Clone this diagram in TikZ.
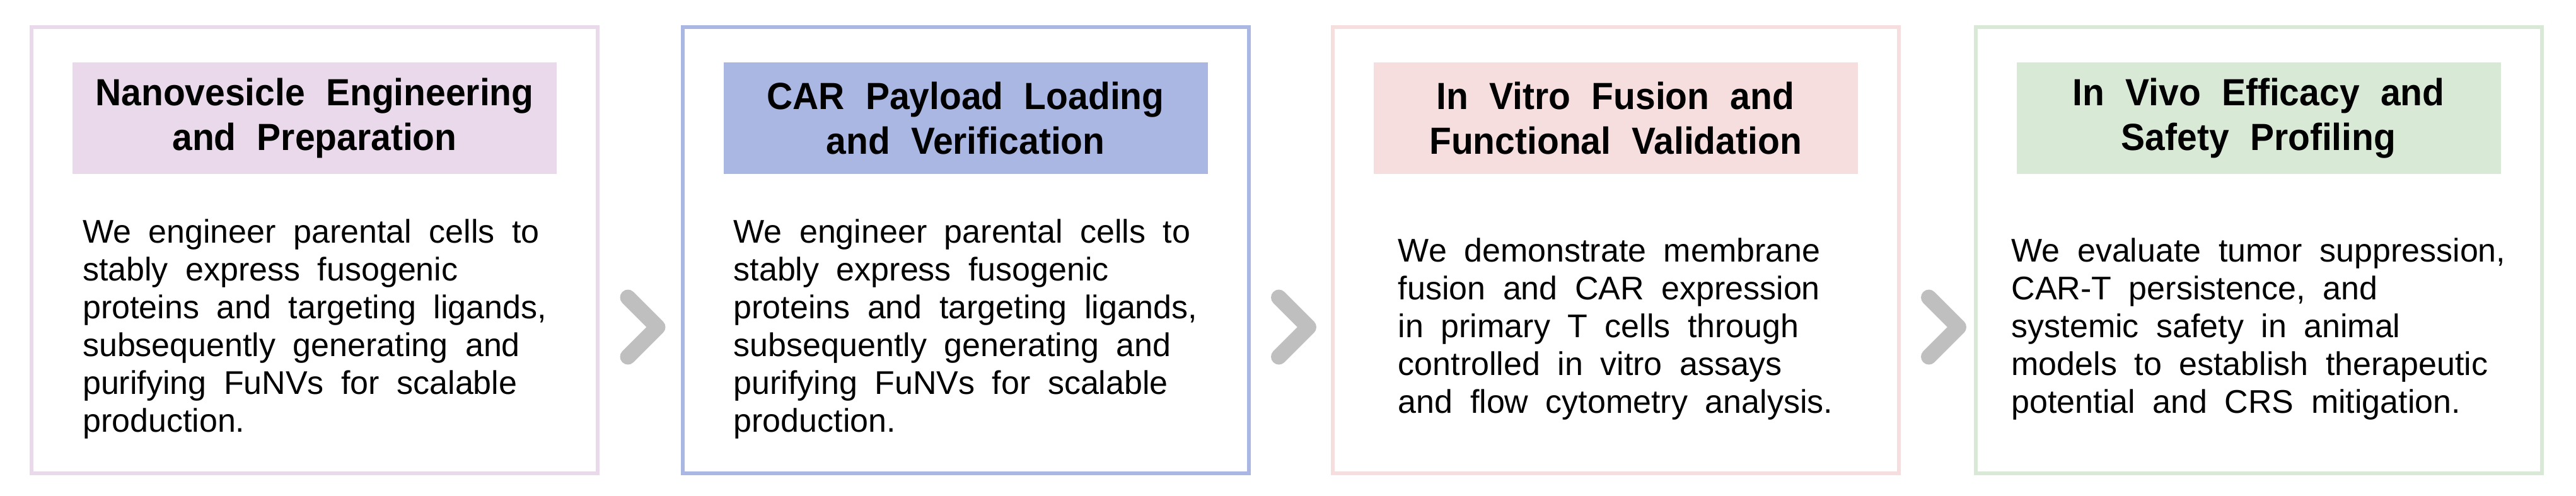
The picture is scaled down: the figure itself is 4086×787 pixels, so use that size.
\documentclass[tikz,border=0pt]{standalone}
\usepackage{fontspec}
\setmainfont{Liberation Sans}[WordSpace=1.9]
\newfontfamily\headfont{Liberation Sans}[FakeStretch=0.95,WordSpace=2.1]
\usetikzlibrary{calc}
\definecolor{lilac}{HTML}{EAD9EA}
\definecolor{periwinkle}{HTML}{AAB7E3}
\definecolor{blush}{HTML}{F6DEDF}
\definecolor{mint}{HTML}{D8EAD6}
\definecolor{chevgray}{HTML}{BFBFBF}

\begin{document}
\begin{tikzpicture}[x=0.5pt,y=-0.5pt,
    stage/.style={draw=#1, line width=3pt, minimum width=449pt, minimum height=354pt, inner sep=0pt},
    head/.style={fill=#1, minimum width=384pt, minimum height=88.5pt, inner sep=0pt, align=center,
        font=\headfont\bfseries\fontsize{30}{35.5}\selectfont},
    body/.style={align=left, inner sep=0pt, font=\fontsize{26}{30}\selectfont},
    chevron/.style={draw=chevgray, line width=12.5pt, line cap=round, line join=round}]
        \useasboundingbox (0,0) rectangle (4086,787);
        \node[stage=lilac] (s1) at (499,397) {};
        \node[stage=periwinkle] (s2) at (1531.5,397) {};
        \node[stage=blush] (s3) at (2562.5,397) {};
        \node[stage=mint] (s4) at (3582.5,397) {};
        \node[head=lilac] (h1) at (499,187.5) {Nanovesicle Engineering\\and Preparation};
        \node[head=periwinkle] (h2) at (1531.5,187.5) {CAR Payload Loading\\and Verification};
        \node[head=blush] (h3) at (2562.5,187.5) {In Vitro Fusion and\\Functional Validation};
        \node[head=mint] (h4) at (3582.5,187.5) {In Vivo Efficacy and\\Safety Profiling};
        \node[body] (t1) at (499,522) {We engineer parental cells to\\stably express fusogenic\\proteins and targeting ligands,\\subsequently generating and\\purifying FuNVs for scalable\\production.};
        \node[body] (t2) at (1531.5,522) {We engineer parental cells to\\stably express fusogenic\\proteins and targeting ligands,\\subsequently generating and\\purifying FuNVs for scalable\\production.};
        \node[body] (t3) at (2562.5,522) {We demonstrate membrane\\fusion and CAR expression\\in primary T cells through\\controlled in vitro assays\\and flow cytometry analysis.};
        \node[body] (t4) at (3582.5,522) {We evaluate tumor suppression,\\CAR-T persistence, and\\systemic safety in animal\\models to establish therapeutic\\potential and CRS mitigation.};
        \draw[chevron] ([shift={(45,75)}]s1.east) -- ++(47,47) -- ++(-47,47);
        \draw[chevron] ([shift={(45,75)}]s2.east) -- ++(47,47) -- ++(-47,47);
        \draw[chevron] ([shift={(45,75)}]s3.east) -- ++(47,47) -- ++(-47,47);
    \end{tikzpicture}
\end{document}
